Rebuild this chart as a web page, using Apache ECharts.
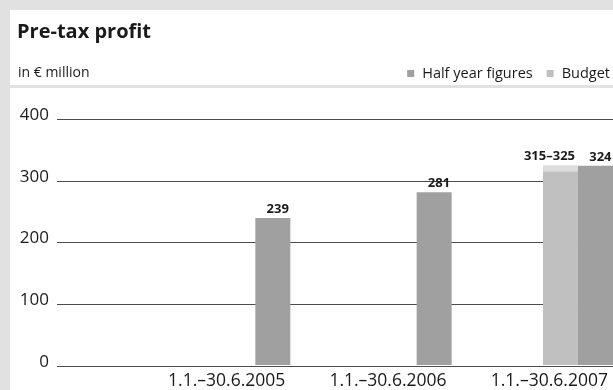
<!DOCTYPE html>
<html>
<head>
<meta charset="utf-8">
<script src="https://cdn.jsdelivr.net/npm/echarts@6/dist/echarts.min.js"></script>
<style>
  html, body { margin: 0; padding: 0; background: #e1e1e1; }
  #chart { width: 613px; height: 390px; }
</style>
</head>
<body>
<div id="chart"></div>
<script>
// Periods shown on the x axis
const categories = ['1.1.\u201330.6.2005', '1.1.\u201330.6.2006', '1.1.\u201330.6.2007'];
// Actual pre-tax profit for each half year (€ million)
const halfYear = [239, 281, 324];
// Budget range for the current half year (€ million)
const budgetLow = [null, null, 315];
const budgetHigh = [null, null, 325];
// Value axis ticks
const yMin = 0, yMax = 400, yStep = 100;

const FONT = '"Open Sans", "Noto Sans", sans-serif';
const TEXT = '#1a1a1a';

const budgetBand = budgetHigh.map((h, i) => (h == null || budgetLow[i] == null) ? null : h - budgetLow[i]);

const chart = echarts.init(document.getElementById('chart'), null, { renderer: 'canvas' });

chart.setOption({
  animation: false,
  backgroundColor: 'transparent',
  textStyle: { fontFamily: FONT, color: TEXT },
  graphic: [
    { type: 'rect', z: -100, shape: { x: 10, y: 10, width: 603, height: 380 }, style: { fill: '#ffffff' } },
    { type: 'rect', z: -99, shape: { x: 10, y: 85, width: 603, height: 3 }, style: { fill: '#e1e1e1' } }
  ],
  title: [
    { text: 'Pre-tax profit', left: 17, top: 22, padding: 0,
      textStyle: { fontFamily: FONT, fontSize: 20, fontWeight: 'bold', color: TEXT } },
    { text: 'in \u20ac million', left: 18, top: 66, padding: 0,
      textStyle: { fontFamily: FONT, fontSize: 14, fontWeight: 'normal', color: TEXT } }
  ],
  legend: {
    data: ['Half year figures', 'Budget'],
    right: 3, top: 66, padding: 0,
    icon: 'rect', itemWidth: 7, itemHeight: 7, itemGap: 14,
    selectedMode: false,
    textStyle: { fontFamily: FONT, fontSize: 14.5, color: TEXT, padding: [0, 0, 0, 3] }
  },
  grid: [
    { left: 57, right: 0, top: 119, bottom: 24 },
    { left: 129, right: 0, top: 119, bottom: 24 }
  ],
  xAxis: [
    { type: 'category', gridIndex: 0, data: categories, show: false },
    { type: 'category', gridIndex: 1, data: categories,
      axisLine: { show: false }, axisTick: { show: false },
      axisLabel: { fontFamily: FONT, fontSize: 17.5, color: TEXT, margin: 7, padding: [0, 0, 0, 34] } }
  ],
  yAxis: [
    { type: 'value', gridIndex: 0, min: yMin, max: yMax, interval: yStep,
      axisLine: { show: false }, axisTick: { show: false },
      axisLabel: { fontFamily: FONT, fontSize: 17, color: TEXT, margin: 8,
                   verticalAlign: 'bottom', lineHeight: 8 },
      splitLine: { show: true, showMinLine: true, showMaxLine: true,
                   lineStyle: { color: '#4d4d4d', width: 1 } } },
    { type: 'value', gridIndex: 1, min: yMin, max: yMax, interval: yStep, show: false,
      splitLine: { show: false } }
  ],
  series: [
    { // empty left part of each period slot, keeps the bars to the right
      name: 'slot', type: 'bar', xAxisIndex: 1, yAxisIndex: 1,
      barWidth: 91.33, barGap: '0%', silent: true,
      data: categories.map(() => null)
    },
    { name: 'Budget', type: 'bar', xAxisIndex: 1, yAxisIndex: 1, stack: 'budget',
      barWidth: 35, barGap: '0%', silent: true,
      itemStyle: { color: '#c0c0c0' },
      data: budgetLow
    },
    { name: 'Budget range', type: 'bar', xAxisIndex: 1, yAxisIndex: 1, stack: 'budget',
      barWidth: 35, barGap: '0%', silent: true,
      itemStyle: { color: '#dcdcdc' },
      label: { show: true, position: 'top', align: 'right', offset: [14.5, 0], distance: 2,
               fontFamily: FONT, fontSize: 13, fontWeight: 'bold', color: TEXT,
               formatter: p => budgetLow[p.dataIndex] + '\u2013' + budgetHigh[p.dataIndex] },
      data: budgetBand
    },
    { name: 'Half year figures', type: 'bar', xAxisIndex: 1, yAxisIndex: 1,
      barWidth: 35, barGap: '0%', silent: true,
      itemStyle: { color: '#a0a0a0' },
      label: { show: true, position: 'top', align: 'right', offset: [16, 0], distance: 2,
               fontFamily: FONT, fontSize: 13, fontWeight: 'bold', color: TEXT },
      data: halfYear
    }
  ]
});
</script>
</body>
</html>
